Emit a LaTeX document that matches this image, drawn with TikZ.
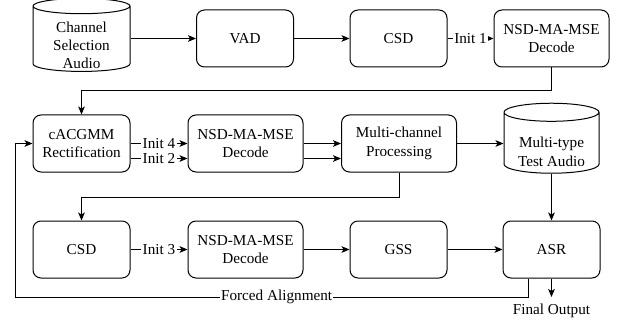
\documentclass[tikz,border=0pt]{standalone}
\usepackage{fontspec}
\setmainfont{Liberation Serif}
\usetikzlibrary{arrows.meta,shapes.geometric}
\newcommand{\storetext}[2]{\raisebox{#1}[0pt][0pt]{\begin{tabular}{@{}c@{}}#2\end{tabular}}}
\tikzset{
    box/.style={draw,rounded corners=6pt,align=center,inner sep=0pt,minimum width=72.75pt,minimum height=42.75pt},
    widebox/.style={box,minimum width=86.25pt},
    store/.style={cylinder,shape border rotate=90,draw,aspect=0.27,inner sep=0pt,fill=white},
    initlabel/.style={fill=white,inner xsep=1pt,inner ysep=0.5pt}
}
\begin{document}
\begin{tikzpicture}[x=0.75pt,y=-0.75pt,->,>={Stealth[length=6pt,width=5pt,inset=1.5pt]},line width=0.75pt,font=\fontsize{11.4}{13.7}\selectfont]
\useasboundingbox (0,0) rectangle (620,324);

% first row
\node[store,minimum width=72.75pt,minimum height=54.75pt] (src) at (81.5,39) {\storetext{-8.75pt}{Channel\\Selection\\Audio}};
\node[box]     (vad)  at (245,38.5)   {VAD};
\node[box]     (csdA) at (398.5,38.5) {CSD};
\node[widebox] (nsdA) at (551.5,38.5) {NSD-MA-MSE\\Decode};

% second row
\node[box]     (cacgmm) at (81.5,143.5)  {cACGMM\\Rectification};
\node[widebox] (nsdB)   at (245.5,143.5) {NSD-MA-MSE\\Decode};
\node[widebox] (mcp)    at (399,143.5)   {Multi-channel\\Processing};
\node[store,minimum width=71.25pt,minimum height=52.5pt] (test) at (551.5,143) {\storetext{-10.5pt}{Multi-type\\Test Audio}};

% third row
\node[box]     (csdB) at (81.5,249.5)  {CSD};
\node[widebox] (nsdC) at (245.5,249.5) {NSD-MA-MSE\\Decode};
\node[box]     (gss)  at (398.5,249.5) {GSS};
\node[box]     (asr)  at (551.5,249.5) {ASR};
\node[anchor=north,inner xsep=0pt,inner ysep=5pt] (out) at (551.5,297) {Final Output};

\coordinate (fa1) at (528,297);
\coordinate (fa2) at (15,297);

\path
(src.east |- vad.west) edge (vad)
(vad)  edge (csdA)
(csdA) edge node[initlabel] {Init 1} (nsdA)
(cacgmm.east) edge node[initlabel] {Init 4} (nsdB.west)
([yshift=-11.25pt]cacgmm.east) edge node[initlabel] {Init 2} ([yshift=-11.25pt]nsdB.west)
(nsdB.east) edge (mcp.west)
([yshift=-11.25pt]nsdB.east) edge ([yshift=-11.25pt]mcp.west)
(mcp.east) edge (mcp.east -| test.west)
(test.south) edge (asr.north)
(csdB) edge node[initlabel] {Init 3} (nsdC)
(nsdC) edge (gss)
(gss)  edge (asr)
(asr)  edge (out)
;

\draw (nsdA.south) -- ++(0,23) -| (cacgmm.north);
\draw (mcp.south) -- ++(0,25) -| (csdB.north);
\draw (asr.south -| fa1) -- (fa1) -- node[initlabel,pos=0.49,inner ysep=0pt] {Forced Alignment} (fa2) |- (cacgmm.west);
\end{tikzpicture}
\end{document}
